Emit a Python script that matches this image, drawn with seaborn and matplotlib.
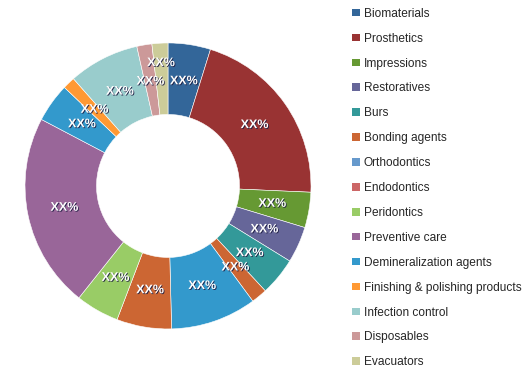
"""
Dental consumables market share donut chart
"""
import numpy as np
import matplotlib
matplotlib.use('Agg')
import matplotlib.pyplot as plt
import matplotlib.patheffects as pe
from matplotlib.patches import Patch
import seaborn as sns

sns.set_style('white')
plt.rcParams['font.family'] = ['Liberation Sans', 'DejaVu Sans']

# data
categories = ['Biomaterials', 'Prosthetics', 'Impressions', 'Restoratives', 'Burs',
              'Bonding agents', 'Orthodontics', 'Endodontics', 'Peridontics',
              'Preventive care', 'Demineralization agents',
              'Finishing & polishing products', 'Infection control',
              'Disposables', 'Evacuators']
shares = [4.8, 20.9, 4.0, 4.1, 4.3, 1.8, 9.7, 6.2, 4.9, 22.0, 4.4, 1.4, 8.0, 1.7, 1.8]
labels = ['XX%'] * len(categories)

# colours used for slices and for legend keys (they differ slightly in the source)
slice_colors = ['#336699', '#993333', '#669933', '#666699', '#339999',
                '#CC6633', '#3399CC', '#CC6633', '#99CC66', '#996699',
                '#3399CC', '#FF9933', '#99CCCC', '#CC9999', '#CCCC99']
legend_colors = ['#336699', '#993333', '#669933', '#666699', '#339999',
                 '#CC6633', '#6699CC', '#CC6666', '#99CC66', '#996699',
                 '#3399CC', '#FF9933', '#99CCCC', '#CC9999', '#CCCC99']

fig = plt.figure(figsize=(5.32, 3.87), dpi=100)
ax = fig.add_axes([0.047, 0.150, 0.5376, 0.739])

wedges, _ = ax.pie(
    shares,
    colors=slice_colors,
    startangle=90,
    counterclock=False,
    radius=1.0,
    wedgeprops=dict(width=0.5, edgecolor='white', linewidth=0.4),
)

# put the "XX%" labels in the middle of the ring; a tiny slice that follows
# another tiny slice gets its label pushed outward so they don't collide
prev_small = False
for w, lab, s in zip(wedges, labels, shares):
    small = s < 2
    r = 0.86 if (small and prev_small) else 0.74
    prev_small = small
    ang = np.deg2rad((w.theta1 + w.theta2) / 2)
    ax.text(r * np.cos(ang), r * np.sin(ang), lab, ha='center', va='center',
            fontsize=9, fontweight='bold', color='white',
            path_effects=[pe.withSimplePatchShadow(offset=(0.6, -0.6),
                                                   shadow_rgbFace='#1a1a40', alpha=0.9)])

ax.set_xlim(-1, 1)
ax.set_ylim(-1, 1)
ax.set_aspect('equal')
ax.axis('off')

handles = [Patch(facecolor=c, edgecolor='none') for c in legend_colors]
fig.legend(handles, categories, loc='upper left', bbox_to_anchor=(0.648, 1.0),
           frameon=False, fontsize=8.6, handlelength=0.6, handleheight=0.6,
           handletextpad=0.35, labelspacing=1.08, borderaxespad=0.25)

plt.savefig('out.png', dpi=100, facecolor='white')
